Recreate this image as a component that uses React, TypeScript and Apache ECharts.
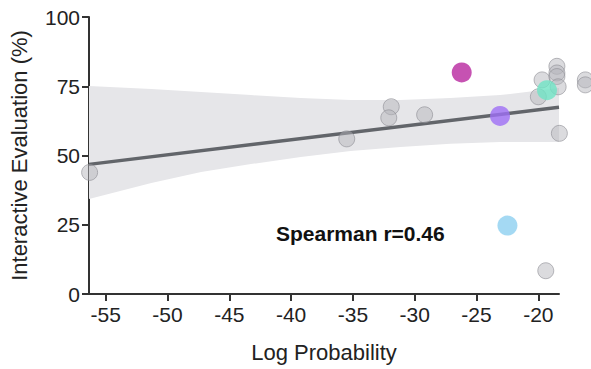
import React, { useEffect, useRef } from "react";
import * as echarts from "echarts";

const grayPoints: [number, number][] = [
  [-56.3, 43.9],
  [-35.5, 56.0],
  [-31.9, 67.6],
  [-32.1, 63.6],
  [-29.2, 64.7],
  [-19.7, 77.3],
  [-20.0, 71.2],
  [-18.5, 82.2],
  [-18.5, 79.8],
  [-18.5, 78.5],
  [-18.4, 74.8],
  [-16.2, 77.3],
  [-16.2, 75.5],
  [-18.3, 58.0],
  [-19.4, 8.4],
];

const coloredPoints: { value: [number, number]; color: string }[] = [
  { value: [-26.2, 80.0], color: "#b8279f" },
  { value: [-23.1, 64.3], color: "#9f6ff5" },
  { value: [-22.5, 24.7], color: "#8dd0f0" },
  { value: [-19.3, 73.6], color: "#6fe3c4" },
];

const fitLine: [number, number][] = [
  [-56.35, 46.8],
  [-18.33, 67.4],
];

const bandX = [-56.35, -51.31, -47.28, -43.25, -39.22, -35.19, -31.15, -27.12, -23.09, -18.33];
const bandUpper = [75.1, 74.0, 72.9, 71.8, 70.8, 70.0, 70.0, 70.8, 71.8, 74.4];
const bandLower = [34.3, 40.1, 44.0, 46.9, 49.5, 51.6, 53.1, 54.2, 54.9, 54.9];

const xTicks = [-55, -50, -45, -40, -35, -30, -25, -20];

export default function App() {
  const ref = useRef<HTMLDivElement>(null);
  useEffect(() => {
    if (!ref.current) return;
    document.body.style.margin = "0";
    const chart = echarts.init(ref.current, undefined, { renderer: "svg" });
    const font = "Liberation Sans, Arial, Helvetica, sans-serif";
    chart.setOption({
      animation: false,
      grid: { left: 88, top: 17, right: 32, bottom: 75 },
      xAxis: {
        type: "value",
        min: -56.35,
        max: -18.33,
        name: "Log Probability",
        nameLocation: "middle",
        nameGap: 47,
        nameTextStyle: { fontSize: 22, color: "#222", fontFamily: font },
        splitLine: { show: false },
        axisLine: { show: true, lineStyle: { color: "#333", width: 2 } },
        axisTick: { show: true, customValues: xTicks, length: 7, lineStyle: { color: "#333", width: 2 } },
        axisLabel: { customValues: xTicks, fontSize: 21, color: "#222", fontFamily: font, margin: 10 },
      },
      yAxis: {
        type: "value",
        min: 0,
        max: 100,
        interval: 25,
        name: "Interactive Evaluation (%)",
        nameLocation: "middle",
        nameGap: 59,
        nameTextStyle: { fontSize: 22, color: "#222", fontFamily: font },
        splitLine: { show: false },
        axisLine: { show: true, lineStyle: { color: "#333", width: 2 } },
        axisTick: { show: true, length: 7, lineStyle: { color: "#333", width: 2 } },
        axisLabel: { fontSize: 21, color: "#222", fontFamily: font, margin: 9 },
      },
      series: [
        {
          type: "custom",
          data: [0],
          silent: true,
          z: 1,
          renderItem: (params: any, api: any) => {
            const upper = bandX.map((x, i) => api.coord([x, bandUpper[i]]));
            const lower = bandX.map((x, i) => api.coord([x, bandLower[i]])).reverse();
            return {
              type: "polygon",
              shape: { points: upper.concat(lower) },
              style: { fill: "#e6e6e9" },
            };
          },
        },
        {
          type: "line",
          data: fitLine,
          symbol: "none",
          lineStyle: { color: "#62656a", width: 3.5 },
          z: 3,
        },
        {
          type: "scatter",
          data: grayPoints,
          symbolSize: 16,
          clip: false,
          itemStyle: { color: "rgba(180,180,186,0.6)", borderColor: "rgba(140,140,146,0.75)", borderWidth: 1 },
          z: 4,
        },
        {
          type: "scatter",
          data: coloredPoints.map((p) => ({ value: p.value, itemStyle: { color: p.color } })),
          symbolSize: 20,
          clip: false,
          z: 5,
        },
      ],
      graphic: [
        {
          type: "text",
          left: 276,
          top: 223,
          style: { text: "Spearman r=0.46", fill: "#111", font: `bold 21px ${font}` },
        },
      ],
    });
    return () => chart.dispose();
  }, []);
  return <div ref={ref} style={{ width: 591, height: 369 }} />;
}
